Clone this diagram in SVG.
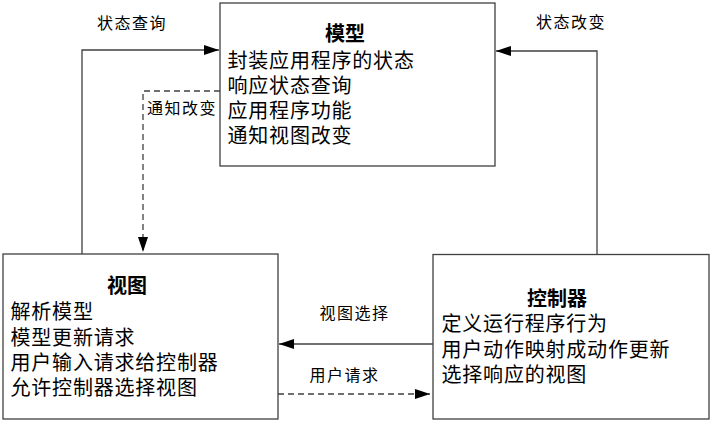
<svg xmlns="http://www.w3.org/2000/svg" width="713" height="423" viewBox="0 0 713 423">
<style>
.box{fill:#fff;stroke:#404040;stroke-width:1.3}
.t{font-family:"Liberation Serif","Noto Sans CJK SC",serif;font-size:20px;letter-spacing:0.8px;fill:#000}
.h{font-family:"Liberation Serif","Noto Sans CJK SC",serif;font-size:20px;font-weight:bold;fill:#000}
.l{font-family:"Liberation Serif","Noto Sans CJK SC",serif;font-size:16px;letter-spacing:1.5px;fill:#000}
.c{fill:none;stroke:#404040;stroke-width:1.3}
.d{stroke-dasharray:6 4}
</style>
<defs>
<marker id="ah" markerUnits="userSpaceOnUse" markerWidth="16" markerHeight="10" refX="15" refY="5" orient="auto">
<path d="M0,0 L15,5 L0,10 Z" fill="#000"/>
</marker>
</defs>
<g id="model">
<rect class="box" x="220" y="3" width="275" height="163"/>
<text class="h" x="325" y="41">模型</text>
<text class="t" x="227.5" y="68">封装应用程序的状态</text>
<text class="t" x="227.5" y="93">响应状态查询</text>
<text class="t" x="227.5" y="118">应用程序功能</text>
<text class="t" x="227.5" y="143">通知视图改变</text>
</g>
<g id="view">
<rect class="box" x="3" y="254" width="275" height="165"/>
<text class="h" x="107" y="293">视图</text>
<text class="t" x="10.5" y="319">解析模型</text>
<text class="t" x="10.5" y="344.5">模型更新请求</text>
<text class="t" x="10.5" y="370">用户输入请求给控制器</text>
<text class="t" x="10.5" y="394.5">允许控制器选择视图</text>
</g>
<g id="controller">
<rect class="box" x="433" y="254.5" width="276" height="164.5"/>
<text class="h" x="527" y="305.5">控制器</text>
<text class="t" x="441.5" y="331">定义运行程序行为</text>
<text class="t" x="441.5" y="356.5">用户动作映射成动作更新</text>
<text class="t" x="441.5" y="382">选择响应的视图</text>
</g>
<g id="connectors">
<path class="c" d="M82,254 V50 H219" marker-end="url(#ah)"/>
<path class="c d" d="M220,91 H143 V252" marker-end="url(#ah)"/>
<path class="c" d="M597,254 V51 H496" marker-end="url(#ah)"/>
<path class="c" d="M433,344 H279" marker-end="url(#ah)"/>
<path class="c d" d="M278,394 H430" marker-end="url(#ah)"/>
<text class="l" x="97" y="29">状态查询</text>
<text class="l" x="536" y="27.5">状态改变</text>
<text class="l" x="147" y="114">通知改变</text>
<text class="l" x="319.5" y="319">视图选择</text>
<text class="l" x="309.5" y="381">用户请求</text>
</g>
</svg>
